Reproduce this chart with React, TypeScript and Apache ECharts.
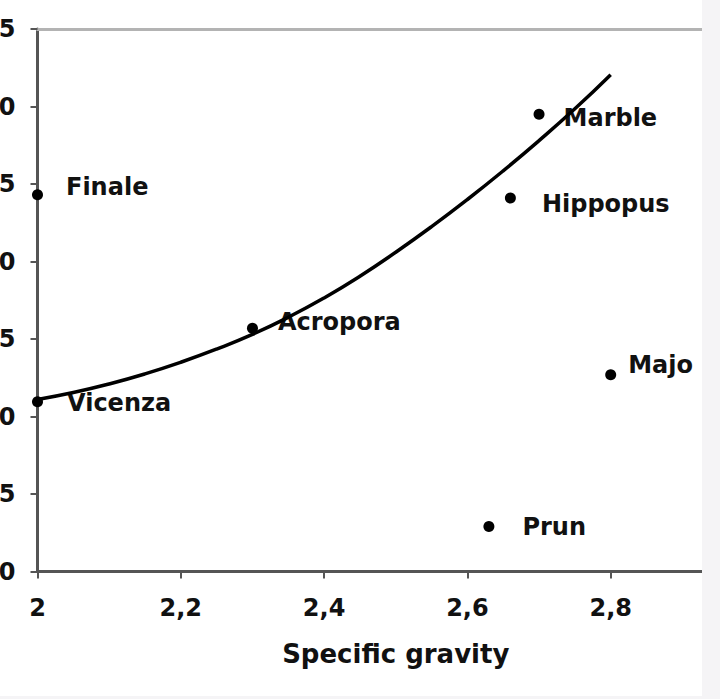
import React, { useEffect, useRef } from "react";
import * as echarts from "echarts";

const names = ["Finale", "Vicenza", "Acropora", "Marble", "Hippopus", "Majo", "Prun"];
const gravity = [2.0, 2.0, 2.3, 2.7, 2.66, 2.8, 2.63];
const values = [24.3, 10.95, 15.7, 29.5, 24.1, 12.7, 2.9];
const labelOffsets: [number, number][] = [
  [23, -8],
  [24, 1],
  [20, -6],
  [19, 4],
  [26, 6],
  [12, -10],
  [28, 0],
];

const curveX = [2.0, 2.05, 2.1, 2.15, 2.2, 2.25, 2.3, 2.35, 2.4, 2.45, 2.5, 2.55, 2.6, 2.65, 2.7, 2.75, 2.8];
const curveY = [11.1, 11.55, 12.1, 12.75, 13.5, 14.35, 15.3, 16.4, 17.65, 19.05, 20.6, 22.25, 24.0, 25.85, 27.8, 29.85, 32.05];

const FONT = "'DejaVu Sans', Verdana, sans-serif";
const TXT = "#111111";

export default function App() {
  const ref = useRef<HTMLDivElement>(null);
  useEffect(() => {
    if (!ref.current) return;
    const chart = echarts.init(ref.current, null, { renderer: "svg" });
    chart.setOption({
      animation: false,
      backgroundColor: "#ffffff",
      grid: {
        left: 37.5,
        right: -34,
        top: 29,
        bottom: 127.5,
        containLabel: false,
        outerBoundsMode: "none",
      },
      xAxis: [
        {
          type: "value",
          min: 2,
          max: 3,
          interval: 0.2,
          name: "Specific gravity",
          nameLocation: "middle",
          nameGap: 69,
          nameTextStyle: { fontFamily: FONT, fontWeight: "bold", fontSize: 26, color: TXT },
          axisLine: { show: true, onZero: false, lineStyle: { color: "#555", width: 3 } },
          axisTick: { show: true, length: 7, lineStyle: { color: "#555", width: 2 } },
          axisLabel: {
            margin: 24,
            fontFamily: FONT,
            fontWeight: "bold",
            fontSize: 24,
            color: TXT,
            formatter: (v: number) => String(Math.round(v * 10) / 10).replace(".", ","),
          },
          splitLine: { show: false },
        },
        {
          type: "value",
          position: "top",
          min: 2,
          max: 3,
          axisLine: { show: true, onZero: false, lineStyle: { color: "#b3b3b3", width: 3 } },
          axisTick: { show: false },
          axisLabel: { show: false },
          splitLine: { show: false },
        },
      ],
      yAxis: {
        type: "value",
        min: 0,
        max: 35,
        interval: 5,
        axisLine: { show: true, onZero: false, lineStyle: { color: "#555", width: 3 } },
        axisTick: { show: true, length: 7, lineStyle: { color: "#555", width: 2 } },
        axisLabel: {
          margin: 22,
          fontFamily: FONT,
          fontWeight: "bold",
          fontSize: 24,
          color: TXT,
        },
        splitLine: { show: false },
      },
      series: [
        {
          type: "scatter",
          z: 2,
          symbol: "circle",
          symbolSize: 11,
          itemStyle: { color: "#000", opacity: 1 },
          label: {
            show: true,
            position: "right",
            distance: 0,
            fontFamily: FONT,
            fontWeight: "bold",
            fontSize: 24,
            color: TXT,
            opacity: 1,
          },
          emphasis: { disabled: true },
          data: names.map((n, i) => ({
            value: [gravity[i], values[i]],
            name: n,
            label: {
              offset: labelOffsets[i],
              formatter: n,
            },
          })),
        },
        {
          type: "line",
          z: 3,
          smooth: true,
          showSymbol: false,
          symbol: "none",
          lineStyle: { color: "#000", width: 3.5 },
          data: curveX.map((x, i) => [x, curveY[i]]),
        },
      ],
      graphic: {
        elements: [
          {
            type: "rect",
            z: 1000,
            silent: true,
            shape: { x: 702, y: 0, width: 18, height: 699 },
            style: { fill: "#f5f4f6" },
          },
          {
            type: "rect",
            z: 1000,
            silent: true,
            shape: { x: 0, y: 696, width: 720, height: 3 },
            style: { fill: "#f5f4f6" },
          },
        ],
      },
    });
    return () => chart.dispose();
  }, []);
  return (
    <div
      ref={ref}
      style={{ position: "absolute", left: 0, top: 0, width: 720, height: 699 }}
    />
  );
}
